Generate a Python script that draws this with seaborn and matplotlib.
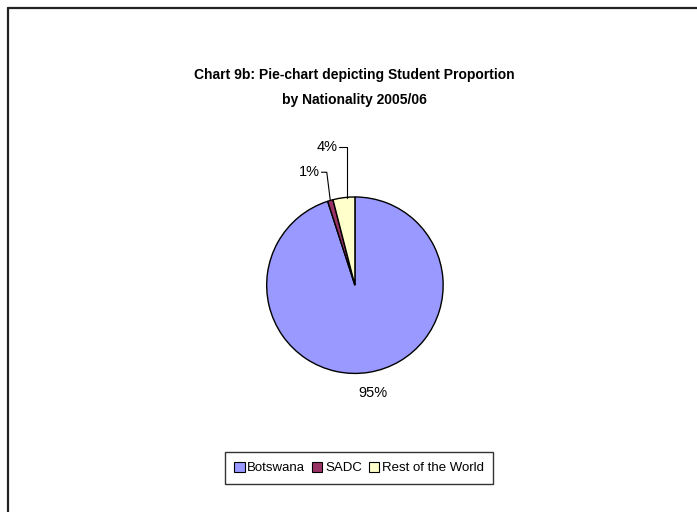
import numpy as np
import matplotlib
matplotlib.use("Agg")
import matplotlib.pyplot as plt
import seaborn as sns

# data
categories = ["Botswana", "SADC", "Rest of the World"]
shares = [95, 1, 4]
pct_labels = ["95%", "1%", "4%"]
colors = ["#9999FF", "#993366", "#FFFFCC"]

sns.set_theme(style="white")
plt.rcParams["font.family"] = ["Liberation Sans", "DejaVu Sans"]
plt.rcParams["text.color"] = "black"

fig = plt.figure(figsize=(6.97, 5.12), dpi=100)
fig.patch.set_facecolor("white")

# chart border (left and top visible)
fig.add_artist(plt.Line2D([8 / 697, 8 / 697], [0, 1 - 8 / 512], color="#222222", lw=1.6,
                          transform=fig.transFigure))
fig.add_artist(plt.Line2D([8 / 697, 1], [1 - 8 / 512, 1 - 8 / 512], color="#222222", lw=1.6,
                          transform=fig.transFigure))

fig.text(0.509, 1 - 75 / 512, "Chart 9b: Pie-chart depicting Student Proportion",
         ha="center", va="center", fontsize=10, fontweight="bold", color="black")
fig.text(0.509, 1 - 100 / 512, "by Nationality 2005/06",
         ha="center", va="center", fontsize=10, fontweight="bold", color="black")

ax = fig.add_axes([0.294, 0.150, 300 / 697, 300 / 512])
wedges, _ = ax.pie(shares, colors=colors, startangle=90, counterclock=False,
                   wedgeprops=dict(edgecolor="black", linewidth=1.0), radius=1.0)
ax.set_xlim(-1.7, 1.7)
ax.set_ylim(-1.7, 1.7)
ax.set_aspect("equal")
ax.axis("off")

# percentage labels
for w, lab, cat in zip(wedges, pct_labels, categories):
    mid = np.deg2rad((w.theta1 + w.theta2) / 2)
    x0, y0 = np.cos(mid), np.sin(mid)
    if cat == "Botswana":
        ax.text(0.2, -1.22, lab, ha="center", va="center", fontsize=10.5, color="black")
    elif cat == "SADC":
        ty = 1.28
        ax.plot([x0, x0 - 0.04, x0 - 0.1], [y0, ty, ty], color="black", lw=0.8)
        ax.text(x0 - 0.12, ty, lab, ha="right", va="center", fontsize=10.5, color="black")
    else:
        ty = 1.57
        mx = x0 + 0.03
        ax.plot([mx, mx, mx - 0.08], [y0, ty, ty], color="black", lw=0.8)
        ax.text(mx - 0.1, ty, lab, ha="right", va="center", fontsize=10.5, color="black")

leg = fig.legend(wedges, categories, loc="center", bbox_to_anchor=(0.515, 0.086), ncol=3,
                 frameon=True, fancybox=False, fontsize=9.5, handlelength=0.8, handleheight=0.8,
                 handletextpad=0.2, columnspacing=0.5, borderpad=0.7, borderaxespad=0)
leg.get_frame().set_edgecolor("black")
leg.get_frame().set_linewidth(1.0)
for t in leg.get_texts():
    t.set_color("black")
for h in leg.legend_handles:
    h.set_edgecolor("black")
    h.set_linewidth(0.8)

fig.savefig("out.png", dpi=100, facecolor="white")
